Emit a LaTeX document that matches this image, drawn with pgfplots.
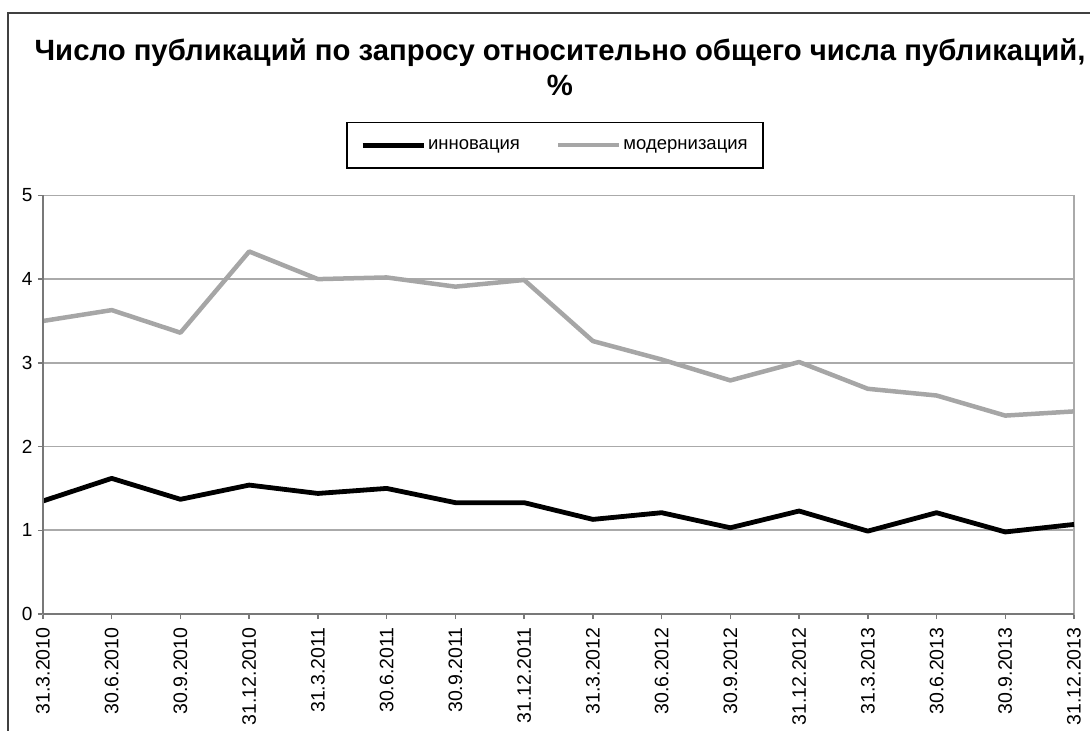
\documentclass[border=0pt]{standalone}
\usepackage{fontspec}
\setmainfont{Liberation Sans}
\usepackage{pgfplots}
\pgfplotsset{compat=1.18}
\definecolor{lightline}{RGB}{166,166,166}
\definecolor{gridc}{RGB}{170,170,170}
\definecolor{axisc}{RGB}{120,120,120}
\begin{document}
\begin{tikzpicture}[x=1pt,y=1pt]
\begin{axis}[
  name=ax, at={(0,0)}, anchor=south west,
  width=1031pt, height=418.6pt, scale only axis,
  xmin=0, xmax=15, ymin=0, ymax=5,
  xtick={0,...,15}, ytick={0,...,5},
  xticklabels={31.3.2010,30.6.2010,30.9.2010,31.12.2010,31.3.2011,30.6.2011,30.9.2011,31.12.2011,31.3.2012,30.6.2012,30.9.2012,31.12.2012,31.3.2013,30.6.2013,30.9.2013,31.12.2013},
  tick pos=left, tick align=outside, major tick length=5pt,
  tick style={axisc, line width=1.5pt},
  axis line style={gridc, line width=1.8pt},
  ymajorgrids, grid style={gridc, line width=1.6pt},
  /pgf/number format/assume math mode=true,
  yticklabel style={font=\fontsize{19}{19}\selectfont, xshift=-2pt},
  xticklabel shift=5pt,
  xticklabel style={rotate=90, anchor=east, font=\fontsize{19.5}{19.5}\selectfont},
  legend style={at={(0.4966,1.12)}, anchor=center, legend columns=2, draw=black, line width=1.8pt,
     font=\fontsize{18.5}{18.5}\selectfont, inner xsep=13pt, inner ysep=15pt,
     /tikz/every even column/.append style={column sep=34pt}},
  legend image code/.code={\draw[#1] (0pt,0pt) -- (61pt,0pt);},
  clip=false,
]
\addplot[black, line width=4.8pt, line join=round] coordinates {
(0,1.35) (1,1.62) (2,1.37) (3,1.54) (4,1.44) (5,1.50) (6,1.33) (7,1.33)
(8,1.13) (9,1.21) (10,1.03) (11,1.23) (12,0.99) (13,1.21) (14,0.98) (15,1.07)};
\addlegendentry{инновация}
\addplot[lightline, line width=4.5pt, line join=round] coordinates {
(0,3.50) (1,3.63) (2,3.36) (3,4.33) (4,4.00) (5,4.02) (6,3.91) (7,3.99)
(8,3.26) (9,3.04) (10,2.79) (11,3.01) (12,2.69) (13,2.61) (14,2.37) (15,2.42)};
\addlegendentry{модернизация}
\draw[axisc, line width=2.2pt] (axis cs:0,0) -- (axis cs:15,0);
\draw[axisc, line width=2pt] (axis cs:0,0) -- (axis cs:0,5);
\end{axis}
\coordinate (O) at (ax.south west);
\pgfresetboundingbox
\useasboundingbox ([shift={(-43,-117)}]O) rectangle ([shift={(1047,614)}]O);
\draw[line width=2pt, color=black!75] ([shift={(-35,-130)}]O) -- ([shift={(-35,601)}]O) -- ([shift={(1060,601)}]O);
\node[font=\fontsize{29.3}{35}\selectfont\bfseries, align=center] at ([shift={(517,547)}]O) {Число публикаций по запросу относительно общего числа публикаций,\\\%};
\end{tikzpicture}
\end{document}
